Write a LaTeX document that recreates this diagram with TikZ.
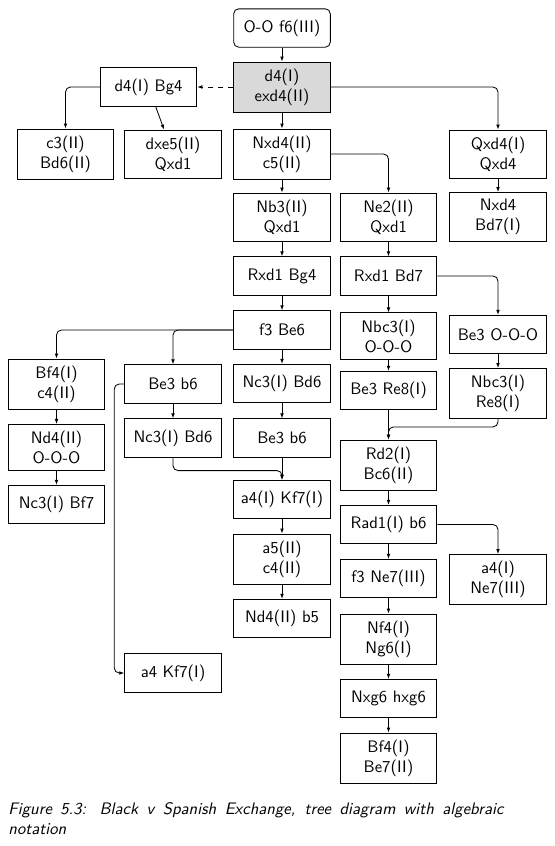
\documentclass[tikz,border=0pt]{standalone}
\usepackage{tikz}
\usetikzlibrary{arrows.meta,calc}

\tikzset{
  move/.style={draw, align=center, minimum width=58pt, minimum height=23pt, inner ysep=4pt, font=\sffamily},
  root/.style={move, rounded corners=3pt},
  main/.style={move, fill=gray!30},
  link/.style={-{Latex[length=3pt,width=2.2pt]}, rounded corners=3pt},
}

\begin{document}
\begin{tikzpicture}[x=0.6pt, y=-0.6pt, line width=0.5pt]
    \useasboundingbox (0,0) rectangle (555,846);

    % Main line
    \node [root] (oof6) at (282,28) {O-O f6(III)};
    \node [main] (d4exd4) at (282,87) {d4(I)\\exd4(II)};
    \node [move] (nxd4c5) at (282,154) {Nxd4(II)\\c5(II)};
    \node [move] (nb3) at (282,217) {Nb3(II)\\Qxd1};
    \node [move] (rxd1bg4) at (282,276) {Rxd1 Bg4};
    \node [move] (f3be6) at (282,330) {f3 Be6};
    \node [move] (nc3bd6) at (282,383.5) {Nc3(I) Bd6};
    \node [move] (be3b6) at (282,438) {Be3 b6};
    \node [move] (a4kf7) at (282,499.5) {a4(I) Kf7(I)};
    \node [move] (a5c4) at (282,559) {a5(II)\\c4(II)};
    \node [move] (nd4b5) at (282,618.5) {Nd4(II) b5};

    % Ne2 line
    \node [move] (ne2) at (388.5,217) {Ne2(II)\\Qxd1};
    \node [move] (rxd1bd7) at (388.5,276) {Rxd1 Bd7};
    \node [move] (nbc3ooo) at (388.5,336) {Nbc3(I)\\O-O-O};
    \node [move] (be3re8) at (388.5,390.5) {Be3 Re8(I)};
    \node [move] (rd2) at (388.5,465) {Rd2(I)\\Bc6(II)};
    \node [move] (rad1) at (388.5,524.5) {Rad1(I) b6};
    \node [move] (f3ne7) at (388.5,578.5) {f3 Ne7(III)};
    \node [move] (nf4) at (388.5,639) {Nf4(I)\\Ng6(I)};
    \node [move] (nxg6) at (388.5,698.5) {Nxg6 hxg6};
    \node [move] (bf4be7) at (388.5,758) {Bf4(I)\\Be7(II)};

    % Right side
    \node [move] (qxd4) at (498,154) {Qxd4(I)\\Qxd4};
    \node [move] (nxd4bd7) at (498,217) {Nxd4\\Bd7(I)};
    \node [move] (be3ooo) at (498,334.5) {Be3 O-O-O};
    \node [move] (nbc3re8) at (498,393.5) {Nbc3(I)\\Re8(I)};
    \node [move] (a4ne7) at (498,579.5) {a4(I)\\Ne7(III)};

    % Left side
    \node [move] (d4bg4) at (148.5,87) {d4(I) Bg4};
    \node [move] (c3bd6) at (65.5,154) {c3(II)\\Bd6(II)};
    \node [move] (dxe5) at (173,154) {dxe5(II)\\Qxd1};
    \node [move] (bf4c4) at (56.5,384) {Bf4(I)\\c4(II)};
    \node [move] (nd4ooo) at (56.5,447.5) {Nd4(II)\\O-O-O};
    \node [move] (nc3bf7) at (56.5,504.5) {Nc3(I) Bf7};
    \node [move] (be3b6l) at (173,384) {Be3 b6};
    \node [move] (nc3bd6l) at (173,438) {Nc3(I) Bd6};
    \node [move] (a4kf7l) at (173,673) {a4 Kf7(I)};

    % Straight links
    \foreach \a/\b in {oof6/d4exd4, d4exd4/nxd4c5, nxd4c5/nb3, nb3/rxd1bg4, rxd1bg4/f3be6,
        f3be6/nc3bd6, nc3bd6/be3b6, be3b6/a4kf7, a4kf7/a5c4, a5c4/nd4b5,
        ne2/rxd1bd7, rxd1bd7/nbc3ooo, nbc3ooo/be3re8, be3re8/rd2, rd2/rad1, rad1/f3ne7,
        f3ne7/nf4, nf4/nxg6, nxg6/bf4be7, qxd4/nxd4bd7, be3ooo/nbc3re8,
        bf4c4/nd4ooo, nd4ooo/nc3bf7, be3b6l/nc3bd6l, d4bg4/dxe5}
        \draw [link] (\a) -- (\b);

    % Branches
    \draw [link, dashed] (d4exd4) -- (d4bg4);
    \draw [link] (d4exd4.east) -| (qxd4.north);
    \draw [link] (d4bg4.west) -| (c3bd6.north);
    \draw [link] (nxd4c5.east) -| (ne2.north);
    \draw [link] (rxd1bd7.east) -| (be3ooo.north);
    \draw [link] (f3be6.west) -| (bf4c4.north);
    \draw [link] (f3be6.west) -| (be3b6l.north);
    \draw [link] (rad1.east) -| (a4ne7.north);
    \draw [link] (be3b6l.west) -- ++(-10,0) |- (a4kf7l.west);

    % Transpositions
    \draw [link] (nc3bd6l.south) -- ++(0,13) -| (a4kf7.north);
    \draw [link] (nbc3re8.south) -- ++(0,8) -| (rd2.north);

    \node [anchor=north west, inner sep=0pt, text width=297pt, align=justify, font=\sffamily\itshape] (caption) at (8,802.5)
        {Figure 5.3: Black v Spanish Exchange, tree diagram with algebraic\linebreak notation};
\end{tikzpicture}
\end{document}
